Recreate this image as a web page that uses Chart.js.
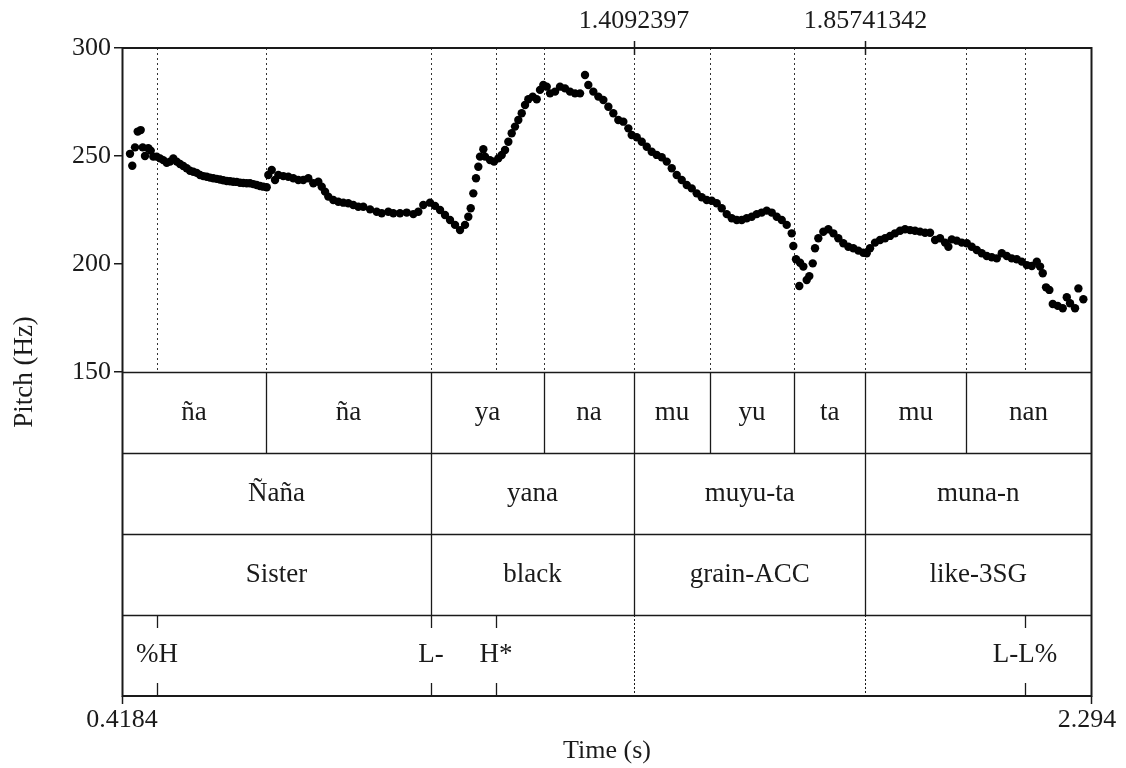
<!DOCTYPE html>
<html>
<head>
<meta charset="utf-8">
<script src="https://cdn.jsdelivr.net/npm/chart.js@4.4.1/dist/chart.umd.min.js"></script>
<style>
  html, body { margin: 0; padding: 0; background: #fff; }
  canvas { display: block; }
</style>
</head>
<body>
<canvas id="pitch" width="1126" height="768"></canvas>
<script>
// time axis (s) and pitch axis (Hz)
const timeMin = 0.4184;
const timeMax = 2.294;
const pitchTicks = [150, 200, 250, 300];
const topMarks = [1.4092397, 1.85741342];

// pitch track
const pitchTime = [
  0.4339, 0.4383, 0.4436, 0.4488, 0.4546, 0.4585, 0.4629, 0.4693, 0.4740, 0.4790,
  0.4856, 0.4920, 0.4983, 0.5049, 0.5113, 0.5177, 0.5243, 0.5307, 0.5371, 0.5436,
  0.5500, 0.5564, 0.5630, 0.5694, 0.5758, 0.5824, 0.5887, 0.5951, 0.6017, 0.6081,
  0.6145, 0.6211, 0.6275, 0.6338, 0.6404, 0.6468, 0.6532, 0.6598, 0.6662, 0.6726,
  0.6791, 0.6855, 0.6919, 0.6985,
  0.7016, 0.7082, 0.7146, 0.7210, 0.7306, 0.7403, 0.7500, 0.7597, 0.7693, 0.7790,
  0.7887, 0.7984, 0.8050, 0.8114, 0.8177, 0.8274, 0.8371, 0.8468, 0.8564, 0.8661,
  0.8758, 0.8855, 0.8985, 0.9114, 0.9211, 0.9339, 0.9436, 0.9565, 0.9695, 0.9823,
  0.9920, 1.0016, 1.0146, 1.0243, 1.0340, 1.0436, 1.0533, 1.0630, 1.0727, 1.0823,
  1.0887, 1.0934, 1.0984, 1.1036, 1.1081, 1.1114, 1.1178, 1.1211, 1.1307, 1.1385,
  1.1468, 1.1534, 1.1598, 1.1662, 1.1727, 1.1791, 1.1855, 1.1921, 1.1985, 1.2049,
  1.2134, 1.2211, 1.2275, 1.2339, 1.2405, 1.2469, 1.2566, 1.2662, 1.2759, 1.2856,
  1.2953, 1.3050, 1.3146, 1.3210, 1.3307, 1.3404, 1.3501, 1.3598, 1.3694, 1.3791,
  1.3888, 1.3985, 1.4050, 1.4147, 1.4244, 1.4341, 1.4437, 1.4534, 1.4631, 1.4728,
  1.4825, 1.4921, 1.5018, 1.5115, 1.5212, 1.5308, 1.5405, 1.5502, 1.5599, 1.5695,
  1.5792, 1.5889, 1.5986, 1.6083, 1.6179, 1.6276, 1.6373, 1.6470, 1.6566, 1.6663,
  1.6760, 1.6857, 1.6954, 1.7050, 1.7147, 1.7178, 1.7230, 1.7294, 1.7308, 1.7372,
  1.7437, 1.7488, 1.7554, 1.7598, 1.7662, 1.7759, 1.7856, 1.7953, 1.8049, 1.8146,
  1.8243, 1.8340, 1.8437, 1.8533, 1.8599, 1.8663, 1.8760, 1.8857, 1.8954, 1.9050,
  1.9147, 1.9244, 1.9341, 1.9438, 1.9534, 1.9631, 1.9728, 1.9825, 1.9922, 2.0018,
  2.0115, 2.0179, 2.0245, 2.0342, 2.0439, 2.0536, 2.0631, 2.0728, 2.0825, 2.0922,
  2.1019, 2.1116, 2.1213, 2.1310, 2.1406, 2.1503, 2.1600, 2.1697, 2.1794, 2.1891,
  2.1954, 2.2006, 2.2070, 2.2134, 2.2200, 2.2296, 2.2393, 2.2471, 2.2534, 2.2631,
  2.2696, 2.2792
];
const pitchHz = [
  251.0, 245.5, 254.0, 261.3, 262.0, 254.0, 250.0, 253.6, 252.5, 249.7,
  249.7, 248.9, 248.1, 246.9, 247.4, 248.9, 247.4, 246.3, 245.4, 244.3,
  243.2, 242.7, 242.2, 241.2, 240.7, 240.4, 240.0, 239.7, 239.4, 239.1,
  238.8, 238.4, 238.3, 238.1, 238.0, 237.6, 237.5, 237.4, 237.4, 237.0,
  236.6, 236.1, 235.8, 235.5,
  241.2, 243.5, 238.9, 241.2, 240.7, 240.4, 239.7, 238.9, 238.9, 239.7,
  237.4, 238.1, 235.8, 233.5, 231.2, 229.6, 228.8, 228.4, 228.1, 227.3,
  226.5, 226.5, 225.3, 224.2, 223.5, 224.2, 223.5, 223.5, 223.8, 223.1,
  224.2, 227.3, 228.4, 226.9, 225.0, 222.7, 220.4, 218.1, 215.7, 218.1,
  221.9, 225.8, 232.7, 239.7, 245.0, 249.7, 253.1, 249.7, 248.1, 247.4,
  248.9, 250.5, 252.8, 256.6, 260.5, 263.6, 266.7, 269.8, 273.6, 276.3,
  277.5, 276.3, 280.6, 282.9, 282.1, 279.0, 279.8, 282.1, 281.3, 279.8,
  279.0, 279.0, 287.5, 282.9, 279.8, 277.5, 275.9, 272.8, 269.8, 266.7,
  265.9, 262.8, 259.7, 258.7, 256.6, 254.3, 252.0, 250.5, 249.4, 247.4,
  244.3, 241.2, 238.9, 236.6, 235.0, 232.7, 230.9, 229.6, 229.3, 228.1,
  225.8, 223.1, 221.2, 220.4, 220.4, 221.2, 221.9, 223.1, 223.8, 224.7,
  223.8, 221.9, 220.4, 218.1, 214.2, 208.3, 202.2, 189.8, 200.6, 198.8,
  192.6, 194.4, 200.3, 207.3, 211.9, 214.9, 216.1, 214.2, 211.9, 209.6,
  208.0, 207.3, 206.2, 205.2, 205.0, 207.3, 209.9, 211.1, 211.9, 213.0,
  214.2, 215.4, 216.1, 215.7, 215.4, 215.0, 214.5, 214.5, 211.1, 211.9,
  209.9, 208.0, 211.4, 210.8, 209.9, 209.6, 208.0, 206.5, 205.0, 203.7,
  203.1, 202.6, 205.0, 203.7, 202.6, 202.2, 201.1, 199.5, 199.1, 201.1,
  198.8, 195.7, 189.2, 188.0, 181.5, 180.6, 179.5, 184.6, 181.8, 179.5,
  188.7, 183.7
];

// TextGrid tiers
const syllableBounds = [0.6971, 1.0165, 1.2353, 1.4092397, 1.5566, 1.7192, 1.85741342, 2.0521];
const syllables = ['ña', 'ña', 'ya', 'na', 'mu', 'yu', 'ta', 'mu', 'nan'];
const wordBounds = [1.0165, 1.4092397, 1.85741342];
const words = ['Ñaña', 'yana', 'muyu-ta', 'muna-n'];
const glosses = ['Sister', 'black', 'grain-ACC', 'like-3SG'];
const toneTimes = [0.4861, 1.0165, 1.1424, 2.1663];
const tones = ['%H', 'L-', 'H*', 'L-L%'];

const serif = '"Liberation Serif", "Times New Roman", serif';
const ink = '#1a1a1a';
const tierHeight = 81;

function line(ctx, x1, y1, x2, y2) {
    ctx.beginPath();
    ctx.moveTo(x1, y1);
    ctx.lineTo(x2, y2);
    ctx.stroke();
}

function text(ctx, str, x, y, size) {
    ctx.font = size + 'px ' + serif;
    ctx.fillStyle = ink;
    ctx.textAlign = 'center';
    ctx.textBaseline = 'middle';
    ctx.fillText(str, x, y);
}

// all boundaries and points, drawn dotted over the pitch panel
function allMarks() {
    const set = new Set([...syllableBounds, ...wordBounds, ...toneTimes]);
    return [...set];
}

const tiersPlugin = {
    id: 'tiers',
    beforeDatasetsDraw(chart) {
        const ctx = chart.ctx;
        const xs = chart.scales.x;
        const a = chart.chartArea;
        ctx.save();
        ctx.strokeStyle = '#333';
        ctx.lineWidth = 1;
        ctx.setLineDash([2, 3]);
        allMarks().forEach(t => {
            const px = Math.round(xs.getPixelForValue(t)) + 0.5;
            line(ctx, px, a.top, px, a.bottom);
        });
        ctx.restore();
    },
    afterDraw(chart) {
        const ctx = chart.ctx;
        const xs = chart.scales.x;
        const a = chart.chartArea;
        const px = t => Math.round(xs.getPixelForValue(t)) + 0.5;
        const left = px(timeMin), right = px(timeMax);
        const bottom = a.bottom + tierHeight * 4;
        ctx.save();
        ctx.strokeStyle = ink;

        // interval tiers
        const intervalTiers = [
            [syllableBounds, syllables],
            [wordBounds, words],
            [wordBounds, glosses]
        ];
        intervalTiers.forEach((tier, i) => {
            const top = a.bottom + tierHeight * i;
            const edges = [timeMin, ...tier[0], timeMax];
            ctx.lineWidth = 1.3;
            tier[0].forEach(t => line(ctx, px(t), top, px(t), top + tierHeight));
            tier[1].forEach((lab, k) => {
                const cx = (xs.getPixelForValue(edges[k]) + xs.getPixelForValue(edges[k + 1])) / 2;
                text(ctx, lab, cx, top + tierHeight / 2, 27);
            });
        });

        // point tier
        const toneTop = a.bottom + tierHeight * 3;
        ctx.lineWidth = 1.3;
        toneTimes.forEach((t, k) => {
            line(ctx, px(t), toneTop, px(t), toneTop + 13);
            line(ctx, px(t), bottom - 13, px(t), bottom);
            text(ctx, tones[k], xs.getPixelForValue(t), toneTop + tierHeight / 2 - 1, 27);
        });
        ctx.setLineDash([2, 2]);
        ctx.lineWidth = 1;
        topMarks.forEach(t => line(ctx, px(t), toneTop, px(t), bottom));
        ctx.setLineDash([]);

        // horizontal tier lines
        ctx.lineWidth = 1.5;
        for (let i = 0; i < 4; i++) {
            const y = Math.round(a.bottom + tierHeight * i) + 0.5;
            line(ctx, left, y, right, y);
        }

        // frame
        ctx.lineWidth = 2;
        ctx.strokeRect(left, a.top, right - left, bottom - a.top);

        // marked times on top
        ctx.lineWidth = 1.5;
        topMarks.forEach(t => {
            line(ctx, px(t), a.top - 7, px(t), a.top + 7);
            text(ctx, String(t), xs.getPixelForValue(t), a.top - 27, 26);
        });

        // time axis
        line(ctx, left, bottom, left, bottom + 8);
        line(ctx, right, bottom, right, bottom + 8);
        text(ctx, String(timeMin), xs.getPixelForValue(timeMin), bottom + 24, 26);
        text(ctx, String(timeMax), xs.getPixelForValue(timeMax) - 4, bottom + 24, 26);
        text(ctx, 'Time (s)', (left + right) / 2, bottom + 55, 26);

        // pitch axis title, centred on the whole picture
        ctx.save();
        ctx.translate(25, (a.top + bottom) / 2);
        ctx.rotate(-Math.PI / 2);
        text(ctx, 'Pitch (Hz)', 0, 0, 27);
        ctx.restore();

        ctx.restore();
    }
};

const points = pitchTime.map((t, i) => ({ x: t, y: pitchHz[i] }));

new Chart(document.getElementById('pitch'), {
    type: 'scatter',
    data: {
        datasets: [{
            data: points,
            pointRadius: 4.2,
            pointBackgroundColor: '#000',
            pointBorderWidth: 0,
            showLine: false
        }]
    },
    options: {
        responsive: false,
        animation: false,
        events: [],
        layout: { padding: { top: 48, right: 35, bottom: 396, left: 0 } },
        plugins: { legend: { display: false }, tooltip: { enabled: false } },
        scales: {
            x: {
                type: 'linear',
                min: timeMin,
                max: timeMax,
                display: false
            },
            y: {
                type: 'linear',
                min: 150,
                max: 300,
                afterFit: s => { s.width = 122; },
                afterBuildTicks: s => { s.ticks = pitchTicks.map(v => ({ value: v })); },
                border: { display: false },
                grid: {
                    drawOnChartArea: false,
                    drawTicks: true,
                    tickLength: 8,
                    color: ink,
                    lineWidth: 1.5
                },
                ticks: {
                    color: ink,
                    padding: 3,
                    font: { family: serif, size: 26 }
                }
            }
        }
    },
    plugins: [tiersPlugin]
});
</script>
</body>
</html>
